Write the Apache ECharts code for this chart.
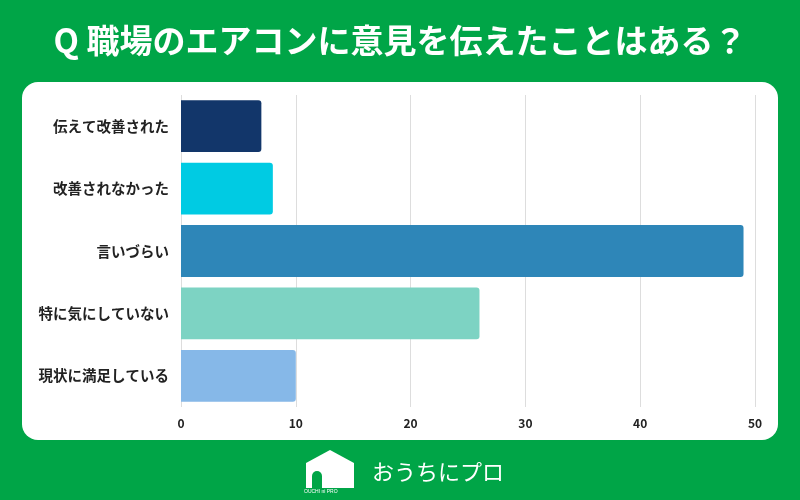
<!DOCTYPE html>
<html>
<head>
<meta charset="utf-8">
<script src="https://cdn.jsdelivr.net/npm/echarts@6/dist/echarts.min.js"></script>
<style>
html, body { margin: 0; padding: 0; background: #00a547; }
#chart { width: 800px; height: 500px; }
</style>
</head>
<body>
<div id="chart"></div>
<script>
var categories = ['伝えて改善された', '改善されなかった', '言いづらい', '特に気にしていない', '現状に満足している'];
var values = [7, 8, 49, 26, 10];
var barColors = ['#12366a', '#00cbe3', '#2e86b8', '#7dd3c3', '#86b8e8'];

var myChart = echarts.init(document.getElementById('chart'));

var data = [];
for (var i = 0; i < values.length; i++) {
    data.push({ value: values[i], itemStyle: { color: barColors[i] } });
}

myChart.setOption({
    backgroundColor: '#00a547',
    textStyle: { fontFamily: '"Noto Sans CJK JP", sans-serif' },
    title: {
        text: 'Q 職場のエアコンに意見を伝えたことはある？',
        left: 'center',
        top: 19,
        textStyle: { color: '#fff', fontSize: 33, fontWeight: 'bold', fontFamily: '"Noto Sans CJK JP", sans-serif' }
    },
    graphic: [
        {
            type: 'rect', z: -1,
            shape: { x: 22, y: 82, width: 756, height: 358, r: 16 },
            style: { fill: '#ffffff' }
        },
        // logo: house
        {
            type: 'polygon',
            shape: { points: [[306, 488], [306, 463], [330, 450], [354, 463], [354, 488]] },
            style: { fill: '#ffffff' }
        },
        {
            type: 'rect',
            shape: { x: 312, y: 471, width: 10, height: 17, r: [5, 5, 0, 0] },
            style: { fill: '#00a547' }
        },
        {
            type: 'text',
            style: { x: 304, y: 489, text: 'OUCHI ni PRO', fill: '#fff', font: '5px sans-serif' }
        },
        {
            type: 'text',
            style: { x: 372, y: 472, text: 'おうちにプロ', fill: '#fff', font: '22px "Noto Sans CJK JP"', verticalAlign: 'middle' }
        }
    ],
    grid: { left: 181, right: 45, top: 95, bottom: 93 },
    xAxis: {
        type: 'value',
        min: 0, max: 50, interval: 10,
        axisLine: { show: false },
        axisTick: { show: false },
        axisLabel: { color: '#222', fontSize: 12, fontWeight: 'bold', margin: 10 },
        splitLine: { lineStyle: { color: '#dddddd' } }
    },
    yAxis: {
        type: 'category',
        inverse: true,
        data: categories,
        axisLine: { show: false },
        axisTick: { show: false },
        axisLabel: { color: '#222', fontSize: 14.5, fontWeight: 'bold', margin: 12 }
    },
    series: [{
        type: 'bar',
        data: data,
        barCategoryGap: '17%',
        itemStyle: { borderRadius: [0, 3, 3, 0] }
    }]
});
</script>
</body>
</html>
